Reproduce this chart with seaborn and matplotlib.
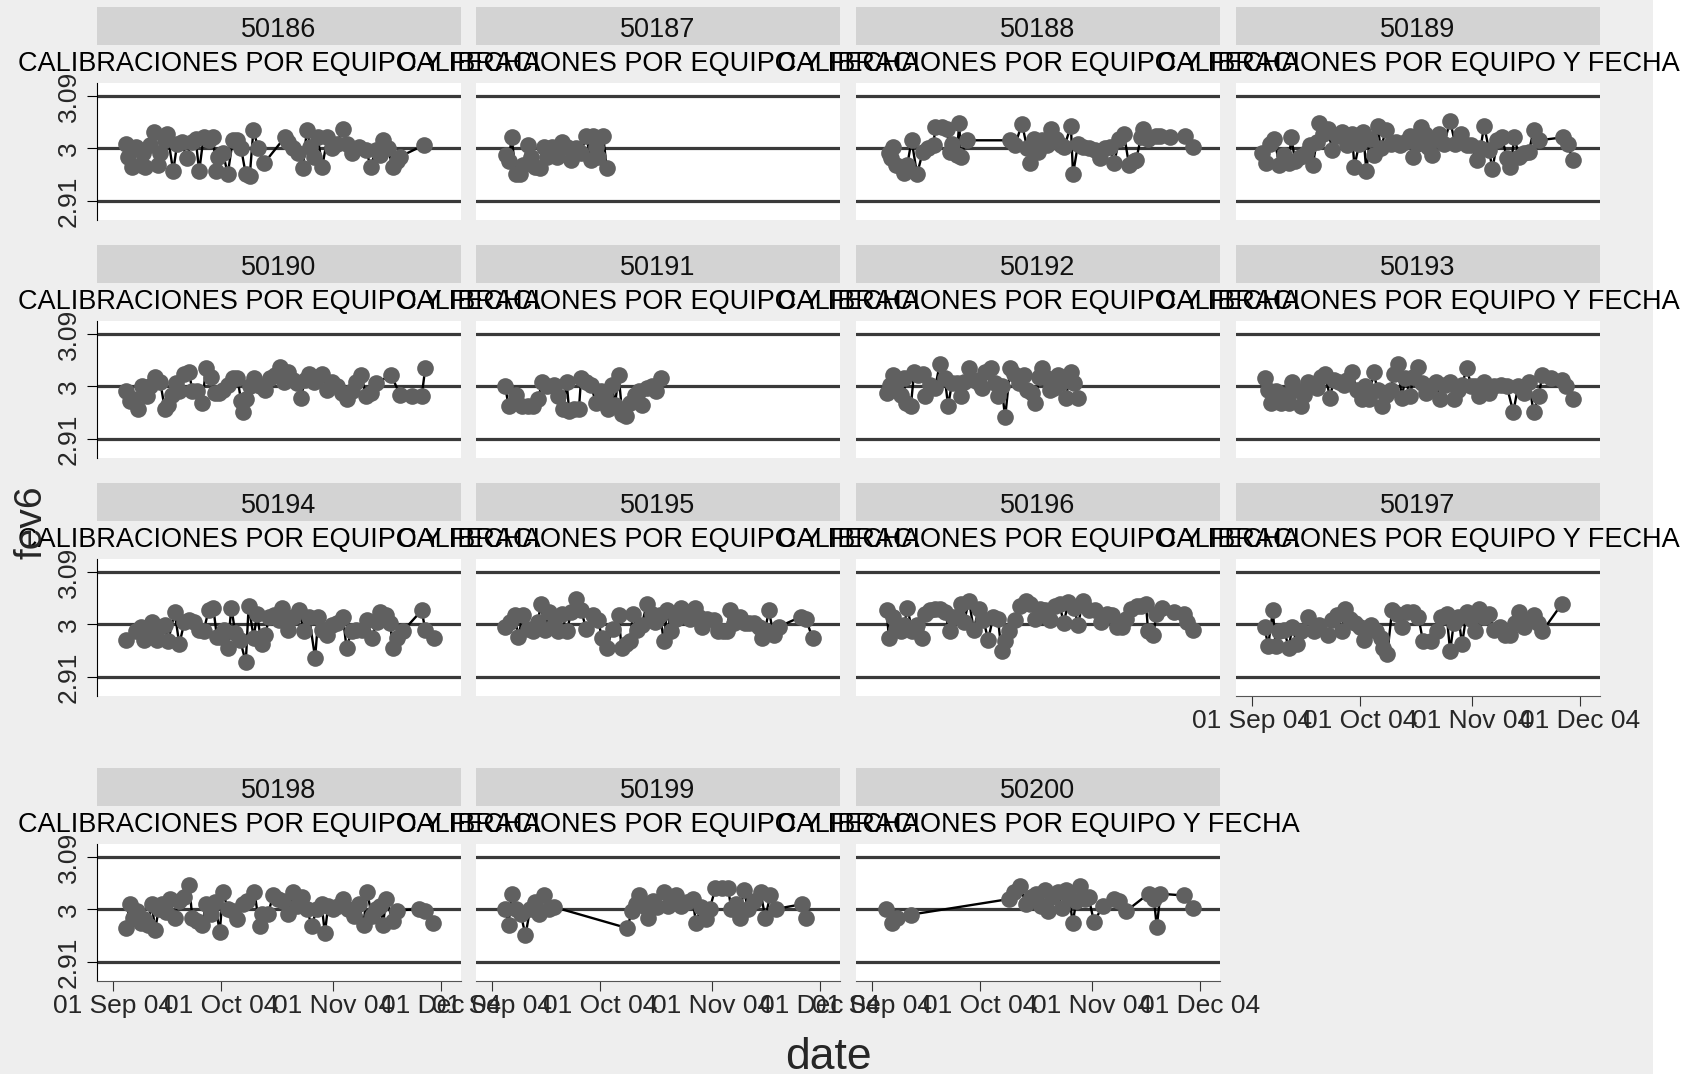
import numpy as np
import pandas as pd
import seaborn as sns
import matplotlib.pyplot as plt
from matplotlib.patches import Rectangle

# calibration readings per device: day offset from 01 Sep 2004 and fev6 value
d50186 = [3.8, 4.4, 5.5, 6.4, 7.8, 8.5, 9.1, 10.5, 11.4, 12.5, 13.2, 14.5, 15.2, 16.8, 17.9, 19.2, 20.5, 21.9, 23.0, 24.0,
          25.2, 26.6, 27.9, 28.6, 29.3, 30.6, 31.9, 33.3, 34.6, 35.6, 36.9, 38.0, 39.0, 40.4, 42.0, 47.7, 48.7, 50.0, 51.4,
          52.7, 53.8, 54.8, 55.7, 56.8, 58.1, 59.5, 60.8, 62.1, 63.8, 64.8, 66.2, 68.2, 70.2, 71.5, 72.9, 74.2, 74.9, 76.2,
          77.6, 78.9, 79.6, 86.3]
v50186 = [3.008, 2.986, 2.969, 3.003, 2.972, 2.992, 2.969, 3.006, 3.028, 2.972, 2.992, 3.014, 3.025, 2.961, 3.008, 3.011,
          2.983, 3.011, 3.017, 2.961, 3.019, 3.014, 3.019, 2.961, 2.986, 2.992, 2.956, 3.014, 3.014, 3.000, 2.956, 2.953,
          3.031, 3.000, 2.975, 3.019, 3.011, 3.000, 2.992, 2.967, 3.031, 3.003, 2.986, 3.019, 2.969, 3.019, 3.000, 3.008,
          3.033, 3.008, 2.992, 3.003, 2.997, 2.969, 2.997, 2.989, 3.014, 3.000, 2.969, 2.978, 2.986, 3.006]

d50187 = [4.0, 4.7, 5.6, 6.7, 7.8, 8.7, 10.1, 11.0, 12.1, 13.4, 14.5, 15.4, 16.8, 18.1, 19.5, 20.8, 22.1, 23.5, 24.8, 26.2,
          27.5, 28.2, 28.9, 29.5, 30.9, 31.9]
v50187 = [2.989, 2.978, 3.019, 2.956, 2.956, 2.972, 3.006, 2.986, 2.969, 2.967, 3.003, 2.986, 3.003, 2.986, 3.011, 3.003,
          2.981, 3.000, 2.992, 3.022, 2.981, 3.022, 3.003, 2.986, 3.022, 2.967]

d50188 = [4.8, 5.5, 5.9, 6.8, 8.2, 8.9, 9.9, 11.1, 12.6, 14.2, 15.6, 17.2, 17.6, 19.6, 20.9, 21.6, 22.3, 23.6, 24.3, 24.7,
          26.3, 38.4, 39.7, 41.7, 43.1, 44.0, 45.1, 46.2, 47.1, 48.5, 49.8, 51.1, 52.5, 53.4, 55.2, 55.8, 57.2, 58.5, 60.1,
          61.9, 63.2, 64.6, 65.9, 67.2, 68.6, 69.9, 71.3, 72.6, 73.3, 74.6, 75.3, 76.6, 78.7, 80.0, 82.7, 86.7, 89.1]
v50188 = [2.992, 2.983, 3.003, 2.972, 2.969, 2.958, 2.972, 3.014, 2.956, 2.994, 3.000, 3.006, 3.036, 3.036, 3.033, 2.994,
          3.008, 2.989, 3.044, 2.986, 3.014, 3.014, 3.006, 3.042, 3.000, 2.975, 3.017, 2.994, 3.014, 3.006, 3.033, 3.017,
          3.006, 3.003, 3.039, 2.956, 3.008, 3.003, 3.000, 2.997, 2.983, 3.000, 3.003, 2.975, 3.017, 3.025, 2.972, 2.978,
          2.981, 3.019, 3.033, 3.017, 3.022, 3.022, 3.019, 3.022, 3.003]

d50189 = [3.0, 4.0, 5.0, 6.3, 7.7, 9.0, 10.3, 11.0, 12.1, 13.4, 15.0, 16.1, 17.0, 18.0, 18.8, 19.7, 21.1, 22.4, 23.8, 25.1,
          26.4, 27.8, 28.5, 29.8, 30.9, 31.8, 32.8, 33.8, 34.9, 35.8, 37.2, 38.5, 39.9, 41.2, 42.6, 43.9, 44.8, 45.9, 47.0,
          47.9, 48.9, 50.0, 51.0, 51.9, 53.3, 55.0, 56.4, 58.0, 59.6, 60.9, 62.3, 63.4, 64.4, 65.8, 66.7, 68.1, 69.4, 70.7,
          71.7, 72.8, 74.1, 75.4, 76.8, 78.1, 79.5, 86.2, 87.5, 88.9]
v50189 = [2.992, 2.975, 3.008, 3.017, 2.972, 2.989, 2.975, 3.019, 2.978, 2.986, 2.992, 3.006, 2.972, 3.011, 3.044, 3.025,
          3.033, 2.997, 3.022, 3.028, 3.006, 3.025, 2.969, 3.008, 3.028, 2.961, 3.017, 2.989, 3.039, 3.000, 3.031, 3.008,
          3.011, 3.006, 3.011, 3.022, 2.986, 3.008, 3.036, 3.025, 3.003, 2.989, 3.017, 3.025, 3.008, 3.047, 3.008, 3.025,
          3.006, 3.006, 2.981, 3.000, 3.039, 2.997, 2.964, 3.014, 3.019, 2.983, 2.969, 3.019, 2.986, 2.992, 2.994, 3.031,
          3.014, 3.019, 3.008, 2.981]

d50190 = [3.8, 4.7, 5.8, 7.1, 8.2, 9.5, 10.5, 11.8, 13.2, 14.5, 15.4, 16.5, 17.6, 18.5, 19.9, 21.2, 22.1, 23.5, 24.8, 25.9,
          27.2, 28.3, 29.4, 30.6, 31.9, 33.3, 34.6, 35.6, 36.0, 36.9, 38.0, 39.3, 40.7, 42.3, 43.6, 45.0, 46.3, 47.4, 48.7,
          50.1, 51.1, 52.1, 53.4, 54.4, 55.7, 56.8, 58.1, 59.5, 60.8, 62.1, 63.5, 64.8, 66.2, 67.5, 68.9, 70.2, 71.5, 72.9,
          77.2, 79.6, 83.0, 85.6, 86.6]
v50190 = [2.992, 2.975, 2.978, 2.961, 3.000, 2.983, 3.000, 3.017, 3.008, 2.961, 2.969, 2.986, 3.006, 2.992, 3.022, 3.025,
          2.992, 2.992, 2.972, 3.031, 3.017, 2.989, 2.989, 2.994, 3.003, 3.014, 3.014, 2.975, 2.956, 2.978, 3.000, 3.014,
          3.000, 2.994, 3.014, 3.019, 3.033, 3.008, 3.025, 3.011, 3.006, 2.981, 3.011, 3.022, 3.008, 3.017, 3.022, 2.994,
          3.008, 3.000, 2.989, 2.978, 2.992, 3.008, 3.019, 2.983, 2.989, 3.006, 3.019, 2.986, 2.983, 2.983, 3.031]

d50191 = [3.8, 4.7, 6.7, 8.3, 10.1, 11.4, 12.8, 14.1, 15.4, 17.2, 18.5, 19.9, 20.8, 21.5, 22.8, 24.2, 24.8, 26.2, 27.5,
          28.9, 30.2, 31.5, 32.2, 33.3, 34.2, 35.2, 36.2, 37.3, 38.3, 39.6, 40.9, 41.6, 43.0, 44.3, 45.6, 47.0]
v50191 = [3.000, 2.967, 2.986, 2.967, 2.967, 2.967, 2.978, 3.008, 3.000, 3.003, 2.983, 2.961, 3.008, 2.958, 2.961, 2.961,
          3.014, 3.008, 3.003, 2.972, 2.992, 2.986, 2.961, 3.003, 2.969, 3.019, 2.953, 2.950, 2.972, 2.986, 2.992, 2.969,
          2.997, 3.000, 2.992, 3.014]

d50192 = [4.2, 5.1, 5.9, 6.8, 8.2, 8.9, 9.5, 10.9, 11.8, 12.9, 14.2, 14.9, 16.2, 17.6, 18.9, 20.3, 21.2, 22.3, 23.6, 24.7,
          25.6, 27.0, 28.3, 29.7, 30.6, 31.4, 33.0, 34.1, 35.0, 36.0, 37.0, 38.4, 39.5, 40.8, 42.1, 43.1, 44.4, 45.4, 46.4,
          47.1, 48.5, 49.4, 50.5, 51.5, 52.5, 53.8, 55.2, 56.1, 57.2]
v50192 = [2.989, 3.003, 3.019, 3.006, 2.986, 3.014, 2.972, 2.967, 3.025, 3.019, 3.022, 2.983, 3.003, 2.997, 3.039, 3.014,
          2.967, 3.006, 3.006, 2.983, 3.008, 3.031, 3.011, 3.006, 2.997, 3.025, 3.031, 3.006, 2.983, 3.000, 2.947, 3.031,
          3.022, 3.006, 3.019, 2.994, 2.989, 2.972, 3.017, 3.031, 3.014, 2.994, 2.997, 3.019, 3.006, 2.981, 3.025, 3.006,
          2.981]

d50193 = [3.6, 4.6, 5.4, 6.7, 8.1, 9.0, 10.3, 11.3, 12.3, 13.7, 14.4, 15.7, 17.0, 18.0, 19.1, 20.4, 21.7, 22.8, 24.2, 25.5,
          26.4, 27.8, 29.1, 30.5, 31.4, 32.5, 33.8, 34.9, 36.2, 37.2, 38.5, 39.5, 40.5, 41.6, 42.6, 43.9, 44.8, 46.2, 47.2,
          48.3, 49.7, 51.0, 52.3, 53.7, 55.0, 56.0, 57.3, 58.3, 59.6, 60.9, 62.0, 63.1, 64.4, 65.8, 67.1, 69.0, 70.7, 72.5,
          73.8, 75.4, 76.8, 78.1, 79.5, 80.5, 82.8, 85.9, 87.2, 88.9]
v50193 = [3.014, 2.994, 2.972, 2.992, 2.972, 2.986, 2.972, 3.008, 2.994, 2.967, 2.986, 3.008, 3.003, 2.997, 3.017, 3.022,
          2.981, 3.011, 3.008, 3.003, 3.011, 3.025, 2.994, 2.978, 3.000, 2.978, 3.025, 2.994, 2.967, 2.986, 2.994, 3.022,
          3.039, 2.981, 3.014, 2.983, 3.017, 3.033, 3.006, 2.989, 3.000, 3.008, 2.978, 3.003, 3.008, 2.978, 2.994, 3.003,
          3.031, 3.000, 3.000, 2.983, 3.008, 2.989, 3.000, 3.003, 3.000, 2.956, 3.000, 2.989, 3.008, 2.956, 2.983, 3.019,
          3.014, 3.011, 3.000, 2.978]

d50194 = [3.8, 6.4, 7.8, 8.7, 9.8, 10.9, 12.2, 13.2, 14.5, 15.4, 17.2, 18.5, 19.9, 21.2, 22.6, 23.9, 25.2, 26.6, 27.9,
          28.9, 29.9, 31.0, 31.9, 32.9, 34.0, 35.3, 36.9, 37.7, 39.1, 40.0, 41.3, 42.3, 43.4, 44.7, 46.0, 46.8, 48.5, 50.1,
          51.7, 53.0, 54.4, 56.1, 57.0, 58.1, 59.5, 60.8, 62.1, 63.8, 64.8, 66.2, 67.5, 69.1, 70.5, 71.8, 73.2, 74.2, 75.6,
          76.9, 77.6, 78.9, 80.3, 85.6, 86.6, 89.0]
v50194 = [2.974, 2.988, 2.996, 2.974, 2.991, 3.004, 2.974, 2.996, 2.999, 2.971, 3.021, 2.966, 3.004, 3.007, 3.004, 2.991,
          2.988, 3.024, 3.029, 2.979, 2.979, 2.991, 2.960, 3.029, 2.985, 2.974, 2.935, 3.032, 2.977, 3.018, 2.966, 2.982,
          3.013, 3.016, 3.007, 3.029, 2.991, 3.013, 3.024, 2.988, 3.013, 2.943, 3.013, 2.991, 2.982, 2.999, 3.002, 3.013,
          2.960, 2.988, 2.991, 2.991, 3.007, 2.977, 3.004, 3.021, 3.016, 3.002, 2.960, 2.977, 2.988, 3.024, 2.991, 2.977]

d50195 = [3.8, 5.1, 6.4, 7.4, 8.7, 10.1, 11.4, 12.8, 13.7, 14.8, 15.8, 17.2, 18.5, 19.5, 20.8, 22.1, 23.5, 24.8, 26.2,
          28.2, 29.5, 30.6, 31.9, 33.6, 35.2, 36.0, 37.3, 38.3, 39.2, 40.3, 41.6, 43.0, 44.3, 45.4, 46.7, 47.7, 48.6, 49.7,
          51.0, 52.6, 54.0, 55.0, 56.4, 57.4, 58.4, 59.7, 61.7, 62.8, 64.2, 65.1, 66.0, 67.1, 68.7, 70.1, 71.4, 72.8, 74.1,
          74.9, 75.8, 76.8, 78.1, 79.5, 85.6, 87.0, 88.9]
v50195 = [2.996, 3.004, 3.016, 2.979, 3.016, 2.993, 2.988, 3.004, 3.035, 2.991, 3.021, 2.999, 2.988, 3.018, 2.988, 3.021,
          3.043, 3.024, 2.993, 3.016, 3.007, 2.977, 2.960, 2.993, 3.016, 2.960, 2.966, 2.971, 3.018, 2.991, 2.999, 3.035,
          3.018, 3.004, 3.016, 2.971, 3.024, 2.988, 3.010, 3.029, 3.021, 3.010, 3.029, 3.013, 2.996, 3.010, 3.007, 2.988,
          2.988, 2.988, 3.024, 3.002, 3.013, 3.002, 3.002, 3.002, 2.996, 2.977, 2.991, 3.024, 2.982, 2.996, 3.013, 3.010,
          2.977]

d50196 = [4.2, 4.8, 5.9, 6.8, 8.2, 9.1, 9.9, 11.3, 12.6, 14.0, 14.9, 16.2, 17.6, 18.9, 20.3, 21.6, 22.6, 23.9, 24.7, 25.6,
          27.0, 28.3, 29.7, 31.0, 32.3, 33.7, 35.0, 36.0, 37.0, 38.1, 39.7, 41.1, 42.7, 44.0, 45.4, 46.7, 48.1, 49.4, 50.7,
          52.1, 53.2, 54.5, 56.1, 57.2, 58.5, 60.1, 61.9, 63.6, 65.2, 66.6, 67.9, 69.3, 70.6, 71.9, 73.6, 74.6, 76.0, 76.6,
          78.0, 78.9, 80.3, 83.8, 86.4, 87.4, 89.1]
v50196 = [3.024, 2.977, 3.013, 2.993, 2.988, 2.999, 3.029, 2.988, 2.999, 2.977, 3.018, 3.024, 3.027, 3.027, 3.021, 2.988,
          3.013, 3.013, 3.035, 3.004, 3.041, 2.991, 3.027, 3.007, 2.974, 3.013, 3.010, 2.954, 2.971, 2.988, 3.007, 3.032,
          3.041, 3.035, 3.010, 3.027, 3.024, 3.007, 3.032, 3.035, 3.002, 3.038, 3.029, 2.999, 3.041, 3.024, 3.024, 3.004,
          3.018, 3.016, 2.996, 2.996, 3.010, 3.027, 3.032, 3.032, 3.035, 2.988, 2.982, 3.018, 3.029, 3.021, 3.018, 3.004,
          2.991]

d50197 = [3.6, 4.6, 5.9, 6.7, 7.7, 9.0, 10.3, 11.3, 12.6, 13.7, 15.7, 17.4, 18.8, 21.1, 22.4, 23.8, 25.1, 26.0, 27.4,
          28.7, 30.1, 31.1, 32.2, 33.2, 34.5, 35.8, 36.5, 37.6, 38.9, 40.3, 41.6, 43.0, 44.8, 46.2, 47.5, 49.7, 51.3, 52.6,
          54.0, 55.0, 56.0, 57.3, 58.3, 59.6, 60.9, 62.0, 63.1, 64.4, 65.8, 67.1, 68.7, 70.1, 71.7, 73.0, 74.1, 75.4, 76.8,
          78.1, 79.2, 80.5, 85.9]
v50197 = [2.996, 2.963, 3.024, 2.963, 2.988, 2.991, 2.960, 2.996, 2.966, 2.988, 3.013, 2.988, 2.999, 2.982, 3.007, 3.016,
          2.988, 3.027, 3.010, 3.002, 2.996, 2.974, 2.993, 2.999, 2.988, 2.977, 2.960, 2.949, 3.024, 3.018, 2.996, 3.021,
          3.021, 3.013, 2.971, 2.971, 2.988, 3.013, 3.018, 2.954, 3.002, 3.013, 2.966, 3.021, 3.010, 2.988, 3.027, 3.013,
          3.018, 2.991, 2.996, 2.982, 2.982, 3.002, 3.021, 2.996, 3.007, 3.016, 3.002, 2.988, 3.035]

d50198 = [3.8, 4.7, 5.8, 6.8, 7.8, 8.7, 9.8, 10.9, 11.8, 12.8, 13.8, 14.9, 15.8, 17.2, 18.5, 19.9, 21.2, 22.1, 23.5, 24.8,
          25.9, 27.2, 28.3, 29.7, 30.6, 31.9, 33.3, 34.6, 36.0, 37.3, 39.3, 40.7, 41.3, 43.1, 44.4, 45.8, 47.1, 48.7, 50.1,
          51.1, 52.5, 53.8, 55.2, 56.5, 57.9, 58.8, 59.7, 61.1, 62.4, 63.8, 65.1, 66.8, 68.2, 69.5, 70.5, 71.8, 72.9, 74.2,
          74.9, 75.8, 77.6, 78.9, 85.0, 86.6, 88.7]
v50198 = [2.968, 3.009, 2.986, 2.998, 2.977, 2.983, 2.974, 3.009, 2.965, 3.001, 3.009, 2.995, 3.018, 2.986, 3.015, 3.021,
          3.042, 2.986, 2.980, 2.974, 3.009, 2.992, 3.012, 2.962, 3.030, 3.001, 2.998, 2.983, 3.009, 3.015, 3.030, 2.971,
          2.992, 2.992, 3.024, 3.018, 3.015, 2.992, 3.030, 3.006, 3.021, 3.001, 2.971, 3.001, 3.009, 2.959, 3.006, 3.001,
          3.006, 3.018, 3.001, 2.989, 3.009, 2.974, 3.030, 2.989, 3.001, 3.006, 2.974, 3.018, 2.980, 2.998, 3.001, 2.998,
          2.977]

d50199 = [3.8, 4.7, 5.6, 6.7, 8.1, 9.4, 10.7, 12.1, 13.2, 14.5, 15.8, 17.4, 37.6, 38.9, 40.0, 40.9, 42.3, 43.2, 44.6,
          45.9, 47.7, 49.0, 51.0, 52.6, 54.0, 55.7, 56.6, 58.0, 59.3, 60.4, 62.0, 63.8, 65.5, 66.4, 67.8, 68.7, 69.8, 71.1,
          72.8, 74.5, 75.8, 77.2, 78.9, 85.9, 87.0]
v50199 = [3.001, 2.974, 3.027, 3.001, 2.992, 2.956, 3.001, 3.012, 2.992, 3.024, 3.001, 3.004, 2.968, 2.998, 3.009, 3.024,
          3.006, 2.986, 3.015, 3.004, 3.030, 3.006, 3.024, 3.006, 3.012, 3.018, 2.977, 3.004, 2.983, 3.001, 3.036, 3.036,
          3.036, 3.001, 3.009, 2.986, 3.033, 3.001, 3.015, 3.030, 2.986, 3.024, 3.001, 3.009, 2.986]

d50200 = [4.1, 5.6, 7.1, 10.8, 38.2, 39.4, 41.2, 42.7, 44.1, 45.6, 46.8, 47.9, 48.9, 50.1, 51.6, 52.7, 53.8, 54.8, 55.7,
          56.7, 57.8, 59.0, 60.1, 61.6, 64.1, 67.1, 68.6, 70.5, 76.7, 78.2, 79.0, 80.0, 86.4, 89.0]
v50200 = [3.000, 2.976, 2.985, 2.991, 3.018, 3.030, 3.041, 3.009, 3.021, 3.027, 3.006, 3.033, 2.997, 3.021, 3.030, 3.003,
          3.033, 3.021, 2.976, 3.015, 3.041, 3.018, 3.021, 2.979, 3.006, 3.018, 3.015, 2.997, 3.027, 3.018, 2.970, 3.027,
          3.024, 3.003]

equipos = list(range(50186, 50201))
days = [d50186, d50187, d50188, d50189, d50190, d50191, d50192, d50193,
        d50194, d50195, d50196, d50197, d50198, d50199, d50200]
vals = [v50186, v50187, v50188, v50189, v50190, v50191, v50192, v50193,
        v50194, v50195, v50196, v50197, v50198, v50199, v50200]

ref_lines = [2.91, 3.0, 3.09]
ref_labels = ["2.91", "3", "3.09"]
tick_dates = pd.to_datetime(["2004-09-01", "2004-10-01", "2004-11-01", "2004-12-01"])
tick_labels = ["01 Sep 04", "01 Oct 04", "01 Nov 04", "01 Dec 04"]
title = "CALIBRACIONES POR EQUIPO Y FECHA"

start = pd.Timestamp("2004-09-01")
frames = []
for eq, d, v in zip(equipos, days, vals):
    frames.append(pd.DataFrame({"equipo": eq,
                                "date": start + pd.to_timedelta(d, unit="D"),
                                "fev6": v}))
df = pd.concat(frames, ignore_index=True)

sns.set_theme(style="white")
plt.rcParams["font.family"] = ["Liberation Sans", "DejaVu Sans"]

W, H = 1687, 1074
fig = plt.figure(figsize=(W / 100, H / 100), dpi=100)
fig.patch.set_facecolor("white")
fig.patches.append(Rectangle((0, 0), 1653 / W, 1, transform=fig.transFigure,
                             facecolor="#eeeeee", edgecolor="none", zorder=-10))

col_left = [97, 476, 856, 1236]
row_top = [83, 321, 559, 844]
pw, ph = 364, 137
xlim = (start - pd.Timedelta(days=4.3), start + pd.Timedelta(days=96.5))

for i, eq in enumerate(equipos):
    r, c = divmod(i, 4)
    x0 = col_left[c]
    ax = fig.add_axes([x0 / W, 1 - (row_top[r] + ph) / H, pw / W, ph / H])
    ax.set_facecolor("white")
    for y in ref_lines:
        ax.axhline(y, color="#3a3a3a", lw=2.3, zorder=1)
    sns.lineplot(data=df[df["equipo"] == eq], x="date", y="fev6", ax=ax,
                 estimator=None, sort=False, color="black", lw=1.7,
                 marker="o", markersize=12, markerfacecolor="#606060",
                 markeredgecolor="#606060", markeredgewidth=0,
                 solid_joinstyle="miter", zorder=3)
    ax.set_xlim(xlim)
    ax.set_ylim(2.8773, 3.1123)
    ax.set_xlabel("")
    ax.set_ylabel("")
    for s in ax.spines.values():
        s.set_visible(False)

    if c == 0:
        ax.spines["left"].set_visible(True)
        ax.spines["left"].set_color("black")
        ax.spines["left"].set_linewidth(0.8)
        ax.set_yticks(ref_lines)
        ax.set_yticklabels(ref_labels, rotation=90, va="center", fontsize=19)
        ax.tick_params(axis="y", left=True, length=7.5, width=0.8, color="black", pad=4)
    else:
        ax.set_yticks([])

    bottom = r == 3 or (r == 2 and c == 3)
    if bottom:
        ax.spines["bottom"].set_visible(True)
        ax.spines["bottom"].set_color("#555555")
        ax.spines["bottom"].set_linewidth(0.8)
        ax.set_xticks(tick_dates)
        ax.set_xticklabels(tick_labels, fontsize=19)
        ax.tick_params(axis="x", bottom=True, length=7.5, width=0.8, color="#333333", pad=2)
    else:
        ax.set_xticks([])

    # header strip with the device number
    sax = fig.add_axes([x0 / W, 1 - (row_top[r] - 38) / H, pw / W, 38 / H])
    sax.set_facecolor("#d3d3d3")
    sax.set_xticks([])
    sax.set_yticks([])
    for s in sax.spines.values():
        s.set_visible(False)
    fig.text((x0 + pw / 2) / W, 1 - (row_top[r] - 46) / H, str(eq),
             ha="center", va="baseline", fontsize=19.5, color="#111111")

    fig.text((x0 + pw / 2) / W, 1 - (row_top[r] - 12) / H, title,
             ha="center", va="baseline", fontsize=19.5, color="black")

fig.text(32 / W, 1 - 522 / H, "fev6", rotation=90, ha="center", va="center", fontsize=28)
fig.text(828 / W, 1 - 1069 / H, "date", ha="center", va="baseline", fontsize=32)

fig.savefig("out.png", dpi=100, facecolor=fig.get_facecolor())
